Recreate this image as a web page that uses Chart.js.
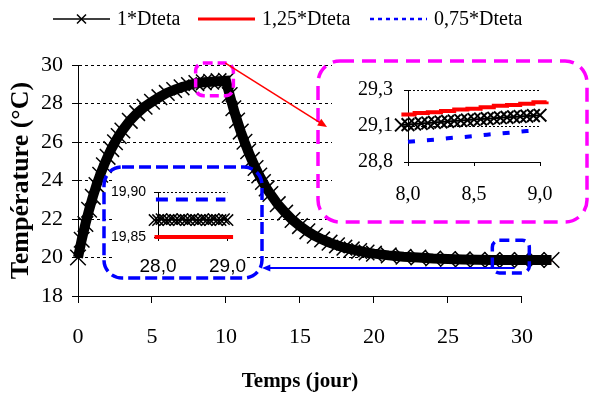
<!DOCTYPE html>
<html>
<head>
<meta charset="utf-8">
<title>Température</title>
<script src="https://cdn.jsdelivr.net/npm/chart.js@4.4.0/dist/chart.umd.min.js"></script>
<style>
  html, body { margin: 0; padding: 0; background: #fff; }
  #wrap { position: relative; width: 591px; height: 397px; overflow: hidden; }
  #wrap canvas, #wrap div { position: absolute; }
</style>
</head>
<body>
<div id="wrap">
  <canvas id="mainChart" width="591" height="397" style="left:0;top:0"></canvas>
  <canvas id="zoomHigh" width="250" height="156" style="left:332px;top:64px;background:#fff"></canvas>
  <div style="left:112px;top:176px;width:132px;height:100px;background:#fff"></div>
  <canvas id="zoomLow" width="152" height="100" style="left:108px;top:176px"></canvas>
  <canvas id="overlay" width="591" height="397" style="left:0;top:0"></canvas>
</div>
<script>
// ============================================
// DATA
// ============================================

// Main chart - time in days (the runs go a bit past the last tick)
const timeMain = [0, 0.25, 0.5, 0.75, 1, 1.25, 1.5, 1.75, 2, 2.25, 2.5, 2.75, 3,
    3.5, 4, 4.5, 5, 5.5, 6, 6.5, 7, 7.5, 8, 8.5, 9, 9.5, 10,
    10.25, 10.5, 10.75, 11, 11.25, 11.5, 11.75, 12, 12.25, 12.5, 12.75, 13,
    13.5, 14, 14.5, 15, 15.5, 16, 16.5, 17, 17.5, 18, 18.5, 19, 19.5, 20,
    21, 22, 23, 24, 25, 26, 27, 28, 29, 30, 31, 32];
// 1*Dteta
const tempBase = [20.0, 20.92, 21.74, 22.48, 23.15, 23.76, 24.30, 24.79, 25.23, 25.63, 25.99, 26.31, 26.60,
    27.10, 27.50, 27.83, 28.09, 28.33, 28.55, 28.70, 28.84, 28.96, 29.06, 29.10, 29.13, 29.16, 29.18,
    28.44, 27.75, 27.12, 26.54, 26.01, 25.52, 25.07, 24.65, 24.26, 23.92, 23.59, 23.30,
    22.77, 22.33, 21.95, 21.63, 21.36, 21.13, 20.94, 20.77, 20.63, 20.51, 20.42, 20.34, 20.26, 20.20,
    20.11, 20.04, 20.00, 19.95, 19.92, 19.90, 19.88, 19.87, 19.87, 19.87, 19.87, 19.87];

// the two other runs, one value per day (mostly hidden under the black band)
const timeDays = [0, 1, 2, 3, 4, 5, 6, 7, 8, 9, 10, 11, 12, 13, 14, 15, 16, 17, 18, 19, 20,
    21, 22, 23, 24, 25, 26, 27, 28, 29, 30, 31, 32];
const tempHigh = [20.3, 23.3, 25.4, 26.7, 27.6, 28.2, 28.6, 28.92, 29.13, 29.22, 29.26,
    26.4, 24.5, 23.1, 22.2, 21.5, 21.0, 20.65, 20.4, 20.25, 20.12,
    20.03, 19.97, 19.93, 19.9, 19.88, 19.86, 19.85, 19.85, 19.85, 19.85, 19.85, 19.85];
const tempLow = [20.5, 23.0, 25.0, 26.5, 27.4, 27.95, 28.4, 28.7, 28.94, 29.03, 29.08,
    26.7, 24.8, 23.5, 22.5, 21.8, 21.3, 20.9, 20.6, 20.42, 20.28,
    20.17, 20.08, 20.02, 19.98, 19.95, 19.93, 19.91, 19.9, 19.895, 19.89, 19.89, 19.89];

const xTicksMain = [0, 5, 10, 15, 20, 25, 30];
const yTicksMain = [18, 20, 22, 24, 26, 28, 30];
const xTitle = 'Temps (jour)';

// Zoom on the plateau (days 8 to 9)
const timeZoomHigh = [7.95, 8.0, 8.05, 8.1, 8.15, 8.2, 8.25, 8.3, 8.35, 8.4, 8.45, 8.5,
    8.55, 8.6, 8.65, 8.7, 8.75, 8.8, 8.85, 8.9, 8.95, 9.0, 9.05];
const baseZoomHigh = [29.057, 29.060, 29.064, 29.068, 29.071, 29.075, 29.078, 29.082, 29.085, 29.088, 29.091, 29.095,
    29.098, 29.101, 29.104, 29.107, 29.110, 29.113, 29.116, 29.119, 29.122, 29.125, 29.128];
const timeStepHigh = [7.95, 8.05, 8.15, 8.25, 8.35, 8.45, 8.55, 8.65, 8.75, 8.85, 8.95, 9.05];
const highZoomHigh = [29.13, 29.14, 29.145, 29.155, 29.165, 29.17, 29.18, 29.19, 29.195, 29.205, 29.215, 29.22];
const timeStepLow = [8.0, 8.1, 8.2, 8.3, 8.4, 8.5, 8.6, 8.7, 8.8, 8.9, 9.0, 9.05];
const lowZoomHigh = [28.94, 28.948, 28.955, 28.965, 28.972, 28.98, 28.99, 28.998, 29.006, 29.015, 29.022, 29.03];
const xTicksHigh = [8.0, 8.5, 9.0];
const xLabelsHigh = ['8,0', '8,5', '9,0'];
const yTicksHigh = [28.8, 29.05, 29.3];
const yLabelsHigh = ['28,8', '29,1', '29,3'];

// Zoom on the end (days 28 to 29)
const timeZoomLow = [27.95, 28.0, 28.05, 28.1, 28.15, 28.2, 28.25, 28.3, 28.35, 28.4, 28.45, 28.5,
    28.55, 28.6, 28.65, 28.7, 28.75, 28.8, 28.85, 28.9, 28.95, 29.0, 29.05];
const baseZoomLow = [19.869, 19.869, 19.870, 19.869, 19.869, 19.870, 19.869, 19.869, 19.870, 19.869, 19.869, 19.870,
    19.869, 19.869, 19.870, 19.869, 19.869, 19.870, 19.869, 19.869, 19.870, 19.869, 19.869];
const timeFlatHigh = [27.95, 29.08];
const highZoomLow = [19.85, 19.85];
const timeFlatLow = [27.97, 28.97];
const lowZoomLow = [19.892, 19.892];
const xTicksLow = [28, 29];
const xLabelsLow = ['28,0', '29,0'];
const yTicksLow = [19.85, 19.90];
const yLabelsLow = ['19,85', '19,90'];

// ============================================
// HELPERS
// ============================================
const serif = "'Liberation Serif', 'Times New Roman', serif";
const sans = "'Liberation Sans Narrow', 'Liberation Sans', Arial, sans-serif";

function points(xs, ys) {
    return xs.map((x, i) => ({ x: x, y: ys[i] }));
}

// force ticks to the given values, labels from a list
function fixedTicks(values) {
    return function(scale) {
        scale.ticks = values.map(v => ({ value: v }));
    };
}
function labelFrom(values, labels) {
    return function(value) {
        const i = values.findIndex(v => Math.abs(v - value) < 1e-6);
        return i >= 0 ? labels[i] : '';
    };
}

// x axis line and title only cover 0..30, the curves run on a little further
const axisLinePlugin = {
    id: 'axisLine',
    beforeDatasetsDraw(chart) {
        const sx = chart.scales.x, ctx = chart.ctx;
        const y = chart.chartArea.bottom;
        const x0 = sx.getPixelForValue(xTicksMain[0]);
        const x1 = sx.getPixelForValue(xTicksMain[xTicksMain.length - 1]);
        ctx.save();
        ctx.strokeStyle = '#000';
        ctx.lineWidth = 1;
        ctx.beginPath();
        ctx.moveTo(x0, y + 0.5);
        ctx.lineTo(x1, y + 0.5);
        ctx.stroke();
        // axis title
        ctx.font = 'bold 21px ' + serif;
        ctx.fillStyle = '#000';
        ctx.textAlign = 'center';
        ctx.textBaseline = 'middle';
        ctx.fillText(xTitle, (x0 + x1) / 2, chart.height - 15);
        ctx.restore();
    }
};

// ============================================
// MAIN CHART
// ============================================
const mainChart = new Chart(document.getElementById('mainChart'), {
    type: 'line',
    data: {
        datasets: [{
            label: '1*Dteta',
            data: points(timeMain, tempBase),
            borderColor: '#000',
            borderWidth: 10,
            pointStyle: 'crossRot',
            pointRadius: 11,
            pointBorderWidth: 1.5,
            pointBorderColor: '#000',
            pointBackgroundColor: '#000',
            clip: false
        }, {
            label: '1,25*Dteta',
            data: points(timeDays, tempHigh),
            borderColor: '#ff0000',
            borderWidth: 3,
            pointRadius: 0,
            clip: false
        }, {
            label: '0,75*Dteta',
            data: points(timeDays, tempLow),
            borderColor: '#0000ff',
            borderWidth: 2.5,
            borderDash: [4, 4],
            pointRadius: 0,
            clip: false
        }]
    },
    options: {
        responsive: false,
        animation: false,
        events: [],
        layout: { padding: { top: 65, right: 38, left: 0, bottom: 0 } },
        plugins: { legend: { display: false }, tooltip: { enabled: false } },
        scales: {
            x: {
                type: 'linear', min: 0, max: 32.1,
                afterFit: function(s) { s.height = 101; },
                afterBuildTicks: fixedTicks(xTicksMain),
                ticks: { color: '#000', font: { family: serif, size: 22 }, padding: 21, maxRotation: 0, autoSkip: false },
                grid: { drawOnChartArea: false, drawTicks: true, tickLength: 7, color: '#000' },
                border: { display: false },
                title: { display: false }
            },
            y: {
                min: 18, max: 30,
                afterFit: function(s) { s.width = 78; },
                afterBuildTicks: fixedTicks(yTicksMain),
                ticks: { color: '#000', font: { family: serif, size: 22 }, padding: 9 },
                grid: {
                    color: function(ctx) { return ctx.index === 0 ? 'rgba(0,0,0,0)' : '#000'; },
                    tickColor: '#000', lineWidth: 1, tickLength: 6, tickBorderDash: []
                },
                border: { color: '#000', width: 1, dash: [3, 3] },
                title: { display: true, text: 'Température (°C)', color: '#000',
                    font: { family: serif, size: 26, weight: 'bold' }, padding: { top: 6, bottom: 0 } }
            }
        }
    },
    plugins: [axisLinePlugin]
});

// ============================================
// INSETS
// ============================================
function insetChart(id, cfg) {
    return new Chart(document.getElementById(id), {
        type: 'line',
        data: { datasets: cfg.datasets },
        options: {
            responsive: false,
            animation: false,
            events: [],
            layout: { padding: cfg.padding },
            plugins: { legend: { display: false }, tooltip: { enabled: false } },
            scales: {
                x: {
                    type: 'linear', min: cfg.xTicks[0], max: cfg.xTicks[cfg.xTicks.length - 1],
                    afterFit: function(s) { s.height = cfg.xHeight; },
                    afterBuildTicks: fixedTicks(cfg.xTicks),
                    ticks: { color: '#000', font: cfg.xFont, padding: cfg.xPad, maxRotation: 0, autoSkip: false,
                        callback: labelFrom(cfg.xTicks, cfg.xLabels) },
                    grid: { drawOnChartArea: false, tickLength: 4, color: '#000' },
                    border: { color: '#000', width: 1 }
                },
                y: {
                    min: cfg.yTicks[0], max: cfg.yTicks[cfg.yTicks.length - 1],
                    afterFit: function(s) { s.width = cfg.yWidth; },
                    afterBuildTicks: fixedTicks(cfg.yTicks),
                    ticks: { color: '#000', font: cfg.yFont, padding: cfg.yPad, autoSkip: false,
                        callback: labelFrom(cfg.yTicks, cfg.yLabels) },
                    grid: {
                        color: function(ctx) { return ctx.index === 0 ? 'rgba(0,0,0,0)' : '#000'; },
                        tickColor: '#000', lineWidth: 1, tickLength: 4, tickBorderDash: []
                    },
                    border: { color: '#000', width: 1, dash: [2, 2] }
                }
            }
        }
    });
}

insetChart('zoomHigh', {
    padding: { top: 26, right: 42, left: 0, bottom: 0 },
    xHeight: 58, yWidth: 76,
    xTicks: xTicksHigh, xLabels: xLabelsHigh, yTicks: yTicksHigh, yLabels: yLabelsHigh,
    xFont: { family: serif, size: 20 }, yFont: { family: serif, size: 20 }, xPad: 17, yPad: 11,
    datasets: [{
        data: points(timeZoomHigh, baseZoomHigh),
        borderColor: '#000', borderWidth: 2,
        pointStyle: 'crossRot', pointRadius: 9, pointBorderWidth: 2, pointBorderColor: '#000',
        clip: false
    }, {
        data: points(timeStepHigh, highZoomHigh),
        borderColor: '#ff0000', borderWidth: 4, pointRadius: 0, stepped: true, clip: false
    }, {
        data: points(timeStepLow, lowZoomHigh),
        borderColor: '#0000ff', borderWidth: 4, borderDash: [7, 12], pointRadius: 0, clip: false
    }]
});

insetChart('zoomLow', {
    padding: { top: 16, right: 28, left: 0, bottom: 0 },
    xHeight: 39, yWidth: 50,
    xTicks: xTicksLow, xLabels: xLabelsLow, yTicks: yTicksLow, yLabels: yLabelsLow,
    xFont: { family: sans, size: 19 }, yFont: { family: sans, size: 14 }, xPad: 14, yPad: 8,
    datasets: [{
        data: points(timeZoomLow, baseZoomLow),
        borderColor: '#000', borderWidth: 2,
        pointStyle: 'crossRot', pointRadius: 8, pointBorderWidth: 1.5, pointBorderColor: '#000',
        clip: false
    }, {
        data: points(timeFlatHigh, highZoomLow),
        borderColor: '#ff0000', borderWidth: 4, pointRadius: 0, clip: false
    }, {
        data: points(timeFlatLow, lowZoomLow),
        borderColor: '#0000ff', borderWidth: 4, borderDash: [12, 8], pointRadius: 0, clip: false
    }]
});

// ============================================
// OVERLAY - legend, zoom frames, arrows
// ============================================
const ov = document.getElementById('overlay').getContext('2d');

function roundRectPath(ctx, x, y, w, h, r) {
    ctx.beginPath();
    ctx.moveTo(x + r, y);
    ctx.arcTo(x + w, y, x + w, y + h, r);
    ctx.arcTo(x + w, y + h, x, y + h, r);
    ctx.arcTo(x, y + h, x, y, r);
    ctx.arcTo(x, y, x + w, y, r);
    ctx.closePath();
}

function dashedFrame(x, y, w, h, r, color, dash, lw) {
    ov.save();
    ov.strokeStyle = color;
    ov.lineWidth = lw;
    ov.setLineDash(dash);
    roundRectPath(ov, x, y, w, h, r);
    ov.stroke();
    ov.restore();
}

function arrow(x1, y1, x2, y2, color, lw, head) {
    const a = Math.atan2(y2 - y1, x2 - x1);
    ov.save();
    ov.strokeStyle = color;
    ov.fillStyle = color;
    ov.lineWidth = lw;
    ov.beginPath();
    ov.moveTo(x1, y1);
    ov.lineTo(x2 - Math.cos(a) * head * 0.6, y2 - Math.sin(a) * head * 0.6);
    ov.stroke();
    ov.beginPath();
    ov.moveTo(x2, y2);
    ov.lineTo(x2 - head * Math.cos(a - 0.4), y2 - head * Math.sin(a - 0.4));
    ov.lineTo(x2 - head * Math.cos(a + 0.4), y2 - head * Math.sin(a + 0.4));
    ov.closePath();
    ov.fill();
    ov.restore();
}

// Zoom frames around the inset charts
dashedFrame(318, 61, 269, 161, 22, '#ff00ff', [14, 8], 3.5);
dashedFrame(104, 167, 158, 111, 18, '#0000ff', [12, 5], 3.5);

// Small frames on the curve, placed from the main chart scales
const sx = mainChart.scales.x, sy = mainChart.scales.y;
const hx1 = sx.getPixelForValue(7.95), hx2 = sx.getPixelForValue(10.5);
const hy1 = sy.getPixelForValue(30.1), hy2 = sy.getPixelForValue(28.4);
dashedFrame(hx1, hy1, hx2 - hx1, hy2 - hy1, 8, '#ff00ff', [9, 5], 3.5);
const lx1 = sx.getPixelForValue(28.0), lx2 = sx.getPixelForValue(30.5);
const ly1 = sy.getPixelForValue(20.9), ly2 = sy.getPixelForValue(19.2);
dashedFrame(lx1, ly1, lx2 - lx1, ly2 - ly1, 7, '#0000ff', [10, 6], 3.5);

// Arrows from the small frames to the insets
arrow(hx2 - 8, hy1, 327, 127, '#ff0000', 1.5, 10);
arrow(sx.getPixelForValue(29.5), ly2 - 5, 262, ly2 - 5, '#0000ff', 2, 9);

// Legend
const legendX = [53, 198, 370];
ov.save();
ov.font = '20px ' + serif;
ov.textBaseline = 'middle';
ov.fillStyle = '#000';
mainChart.data.datasets.forEach(function(ds, i) {
    const x0 = legendX[i], x1 = x0 + 57, y = 19;
    ov.save();
    ov.strokeStyle = ds.borderColor;
    ov.lineWidth = i === 0 ? 1.5 : ds.borderWidth;
    if (ds.borderDash) ov.setLineDash(ds.borderDash);
    ov.beginPath();
    ov.moveTo(x0, y);
    ov.lineTo(x1, y);
    ov.stroke();
    if (i === 0) {
        // cross marker in the middle
        const cx = (x0 + x1) / 2, r = 4.5;
        ov.beginPath();
        ov.moveTo(cx - r, y - r); ov.lineTo(cx + r, y + r);
        ov.moveTo(cx + r, y - r); ov.lineTo(cx - r, y + r);
        ov.stroke();
    }
    ov.restore();
    ov.fillText(ds.label, x1 + 7, y + 1);
});
ov.restore();
</script>
</body>
</html>
